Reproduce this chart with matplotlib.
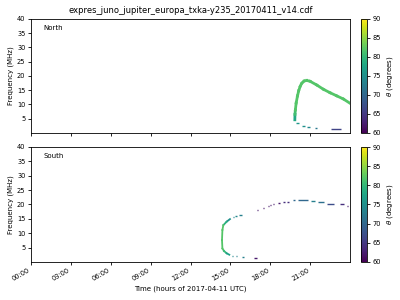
import numpy as np
import matplotlib
matplotlib.use("Agg")
from matplotlib import pyplot as plt
from matplotlib.collections import LineCollection
from matplotlib.ticker import FuncFormatter

title = "expres_juno_jupiter_europa_txka-y235_20170411_v14.cdf"

# North: continuous emission band (hours, MHz, theta deg)
north_t = [19.85, 19.86, 19.89, 19.95, 20.05, 20.14, 20.25, 20.37, 20.55, 20.75,
           21.0, 21.5, 22.0, 22.5, 23.0, 23.5, 24.0]
north_f = [4.6, 6.5, 8.1, 10.5, 13.0, 14.8, 16.3, 17.4, 18.2, 18.4,
           18.1, 16.8, 15.3, 14.1, 13.0, 11.9, 10.4]
north_theta = [78, 81, 82, 82, 82, 82, 82, 82, 82, 82,
               82, 82, 82, 82, 82, 82, 82]

# North: sparse pieces (start hour, end hour, MHz, theta)
north_d0 = [19.94, 20.37, 20.79, 21.37, 22.57]
north_d1 = [20.20, 20.62, 20.99, 21.50, 23.30]
north_df = [3.3, 2.45, 2.1, 1.75, 1.3]
north_dth = [76, 75, 74, 72, 66]

# South: continuous emission (hours, MHz, theta deg)
south_t = [14.97, 14.72, 14.47, 14.40, 14.37, 14.40, 14.52, 14.72, 14.92]
south_f = [14.9, 14.0, 12.8, 11.1, 7.6, 4.7, 3.8, 3.0, 2.5]
south_theta = [75, 79, 82, 82, 82, 82, 80, 77, 75]

# South: sparse pieces (start hour, end hour, MHz, theta)
south_d0 = [15.10, 15.42, 15.88, 16.78,
            15.20, 15.35, 15.67, 16.08, 16.46, 16.76, 17.01, 17.21, 17.46,
            17.66, 17.84, 18.01, 18.21, 18.60, 18.94, 19.29, 19.69, 20.07,
            21.07, 21.62, 22.25, 23.25, 23.75]
south_d1 = [15.20, 15.50, 16.03, 17.03,
            15.26, 15.52, 15.85, 16.13, 16.51, 16.81, 17.06, 17.26, 17.51,
            17.71, 17.89, 18.06, 18.26, 18.74, 19.11, 19.44, 19.86, 20.87,
            21.37, 22.05, 22.80, 23.55, 23.85]
south_df = [2.2, 1.9, 1.6, 1.3,
            15.5, 15.9, 16.4, 16.9, 17.3, 17.8, 18.2, 18.6, 18.9,
            19.3, 19.6, 19.9, 20.2, 20.4, 20.7, 21.0, 21.4, 21.7,
            21.2, 20.8, 20.3, 20.0, 19.6]
south_dth = [74, 73, 73, 62,
             74, 74, 73, 70, 68, 63, 62, 62, 62,
             62, 62, 62, 62, 62, 64, 64, 70, 70,
             73, 71, 67, 64, 62]

cmap = plt.get_cmap("viridis")
norm = plt.Normalize(60, 90)


def draw_band(ax, t, f, th, lw):
    pts = np.column_stack([t, f])
    segs = np.stack([pts[:-1], pts[1:]], axis=1)
    lc = LineCollection(segs, cmap=cmap, norm=norm, linewidths=lw,
                        capstyle="projecting")
    lc.set_array(np.array(th[:-1], dtype=float))
    ax.add_collection(lc)


def draw_pieces(ax, t0, t1, f, th, lw):
    ax.hlines(f, t0, t1, colors=cmap(norm(np.array(th))), linewidth=lw)


fig = plt.figure(figsize=(4, 3), dpi=100)
ax1 = fig.add_axes([0.0775, 0.557, 0.7975, 0.38])
ax2 = fig.add_axes([0.0775, 0.127, 0.7975, 0.383], sharex=ax1)
cax1 = fig.add_axes([0.9025, 0.557, 0.015, 0.38])
cax2 = fig.add_axes([0.9025, 0.127, 0.015, 0.383])

draw_band(ax1, north_t, north_f, north_theta, 2.0)
draw_pieces(ax1, north_d0, north_d1, north_df, north_dth, 1.0)
draw_band(ax2, south_t, south_f, south_theta, 1.3)
draw_pieces(ax2, south_d0, south_d1, south_df, south_dth, 1.0)

hfmt = FuncFormatter(lambda v, p: "%02d:00" % int(round(v)))
for ax, name in [(ax1, "North"), (ax2, "South")]:
    ax.set_xlim(0, 24)
    ax.set_ylim(0, 40)
    ax.set_yticks(np.arange(5, 41, 5))
    ax.set_xticks(np.arange(0, 22, 3))
    ax.xaxis.set_major_formatter(hfmt)
    ax.tick_params(labelsize=4.8, length=2.5, width=0.6, pad=1.5)
    ax.set_ylabel("Frequency (MHz)", fontsize=5, labelpad=2)
    ax.text(0.04, 0.9, name, transform=ax.transAxes, fontsize=5)
    for s in ax.spines.values():
        s.set_linewidth(0.6)

ax1.tick_params(labelbottom=False)
for lab in ax2.get_xticklabels():
    lab.set_rotation(30)
    lab.set_ha("right")
ax2.set_xlabel("Time (hours of 2017-04-11 UTC)", fontsize=5, labelpad=2)
ax1.set_title(title, fontsize=6, pad=4)

for cax in (cax1, cax2):
    sm = plt.cm.ScalarMappable(norm=norm, cmap=cmap)
    cb = fig.colorbar(sm, cax=cax, ticks=np.arange(60, 91, 5))
    cb.ax.tick_params(labelsize=4.8, length=2.5, width=0.6, pad=1.5)
    cb.outline.set_linewidth(0.6)
    cb.set_label(r"$\theta$ (degrees)", fontsize=5, labelpad=3)

fig.savefig("out.png", dpi=100)
